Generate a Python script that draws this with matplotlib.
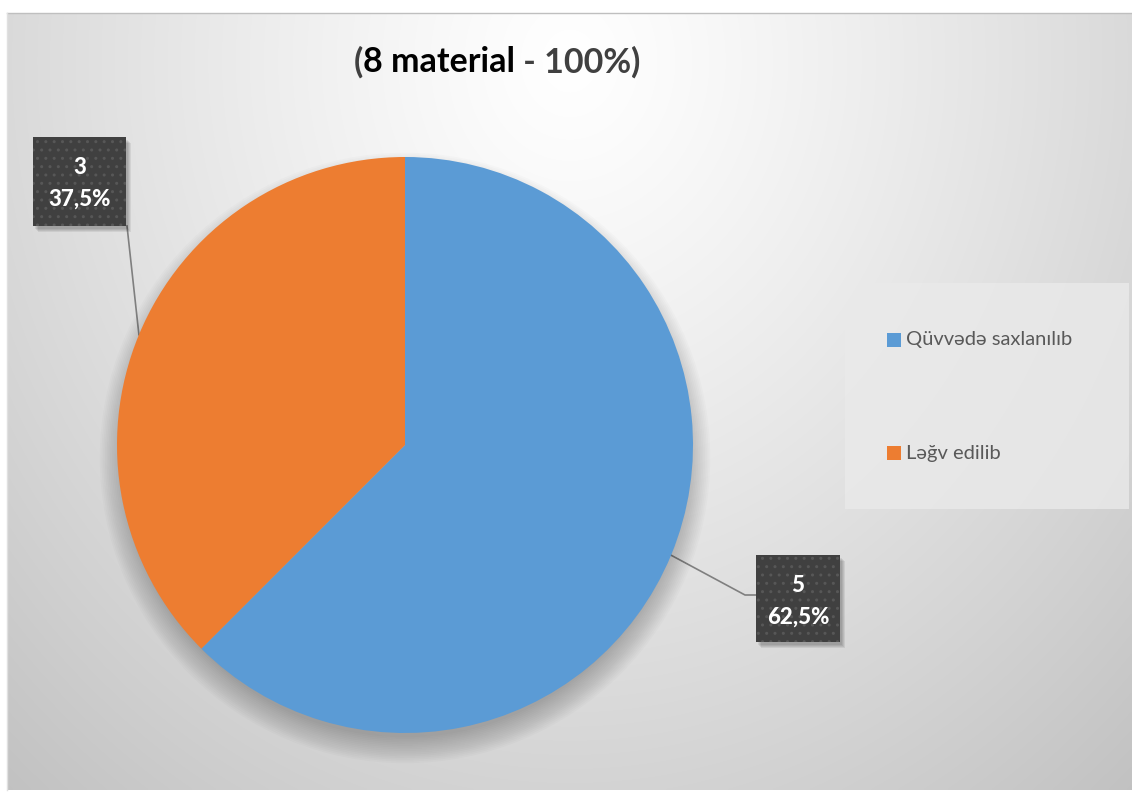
import numpy as np
import matplotlib
matplotlib.use("Agg")
import matplotlib.pyplot as plt
from matplotlib.patches import Rectangle, Circle

# ---- data ----
categories = ["Qüvvədə saxlanılıb", "Ləğv edilib"]
values = [5, 3]
colors = ["#5B9BD5", "#ED7D31"]
title_parts = ["(", "8 material", " - 100%)"]
title_colors = ["#404040", "#000000", "#404040"]

W, H = 1132, 793
FONT = ["Lato", "DejaVu Sans"]

fig = plt.figure(figsize=(W / 100, H / 100), dpi=100)
fig.patch.set_facecolor("white")

# background axes in pixel coordinates
bg = fig.add_axes([0, 0, 1, 1])
bg.set_xlim(0, W)
bg.set_ylim(H, 0)
bg.axis("off")

x0, x1, y0, y1 = 7, 1132, 13, 790
xs = np.linspace(x0, x1, 400)
ys = np.linspace(y0, y1, 300)
X, Y = np.meshgrid(xs, ys)
d = np.sqrt(((X - 570) / 700) ** 2 + ((Y - 60) / 800) ** 2)
v = np.clip(1 - 0.19 * d ** 1.2, 0, 1)
img = np.dstack([v, v, v])
bg.imshow(img, extent=[x0, x1, y1, y0], aspect="auto", interpolation="bilinear", zorder=0)
bg.plot([x0, x1], [y0, y0], color="#bfbfbf", lw=1, zorder=1)
bg.plot([x0, x0], [y0, y1], color="#e0e0e0", lw=1, zorder=1)

# title (multi-coloured pieces, centred)
renderer = fig.canvas.get_renderer()
tkw = dict(fontsize=24.5, fontweight="bold", family=FONT, va="center", ha="left", zorder=5)
texts = [bg.text(0, 62, s, color=c, **tkw) for s, c in zip(title_parts, title_colors)]
widths = [t.get_window_extent(renderer).width for t in texts]
xstart = 497 - sum(widths) / 2
for t, w in zip(texts, widths):
    t.set_x(xstart)
    xstart += w

# pie axes
cx, cy, R = 405, 445, 288
pax = fig.add_axes([(cx - R) / W, (H - cy - R) / H, 2 * R / W, 2 * R / H])
pax.patch.set_alpha(0)
# soft shadow (mostly below)
for i in range(16):
    r = 0.97 + 0.006 * i
    pax.add_patch(Circle((0.0, -0.045), r, color="black", alpha=0.016, lw=0,
                         clip_on=False, zorder=0))
wedges, _ = pax.pie(values, colors=colors, startangle=90, counterclock=False, radius=1,
                    wedgeprops=dict(linewidth=0, zorder=2))
pax.set_xlim(-1, 1)
pax.set_ylim(-1, 1)
pax.axis("off")

total = sum(values)

def edge_point(w):
    ang = np.deg2rad((w.theta1 + w.theta2) / 2)
    return cx + R * np.cos(ang), cy - R * np.sin(ang)

# label boxes: (left, top, right, bottom) and leader path
boxes = [
    dict(rect=(756, 555, 840, 642), leader=lambda p: ([p[0], 745, 756], [p[1], 595, 595])),
    dict(rect=(33, 137, 126, 226), leader=lambda p: ([p[0], 127], [p[1], 226])),
]
for w, val, b in zip(wedges, values, boxes):
    l, t, r, bt = b["rect"]
    p = edge_point(w)
    lx, ly = b["leader"](p)
    bg.plot(lx, ly, color="#7f7f7f", lw=1.2, zorder=3)
    for k in range(4):
        bg.add_patch(Rectangle((l + 2 + k, t + 3 + k), r - l, bt - t, facecolor="black",
                               alpha=0.07, lw=0, zorder=3))
    bg.add_patch(Rectangle((l, t), r - l, bt - t, facecolor="#404040", lw=0, zorder=4))
    bg.add_patch(Rectangle((l, t), r - l, bt - t, facecolor="none", edgecolor="#575757",
                           hatch="..", lw=0, zorder=4))
    pct = f"{val / total * 100:.1f}%".replace(".", ",")
    xm = (l + r) / 2
    lkw = dict(ha="center", va="center", fontsize=16, fontweight="black",
               color="white", family=FONT, zorder=5)
    bg.text(xm, t + 30, f"{val}", **lkw)
    bg.text(xm, t + 62, pct, **lkw)

# legend
bg.add_patch(Rectangle((845, 283), 284, 226, facecolor="#eaeaea", lw=0, alpha=0.8, zorder=2))
leg_y = [340, 453]
for cat, col, ly in zip(categories, colors, leg_y):
    bg.add_patch(Rectangle((887, ly - 7), 14, 14, facecolor=col, lw=0, zorder=4))
    bg.text(906, ly, cat, ha="left", va="center", fontsize=14.5, color="#595959",
            family=FONT, zorder=5)

fig.savefig("out.png", dpi=100)
